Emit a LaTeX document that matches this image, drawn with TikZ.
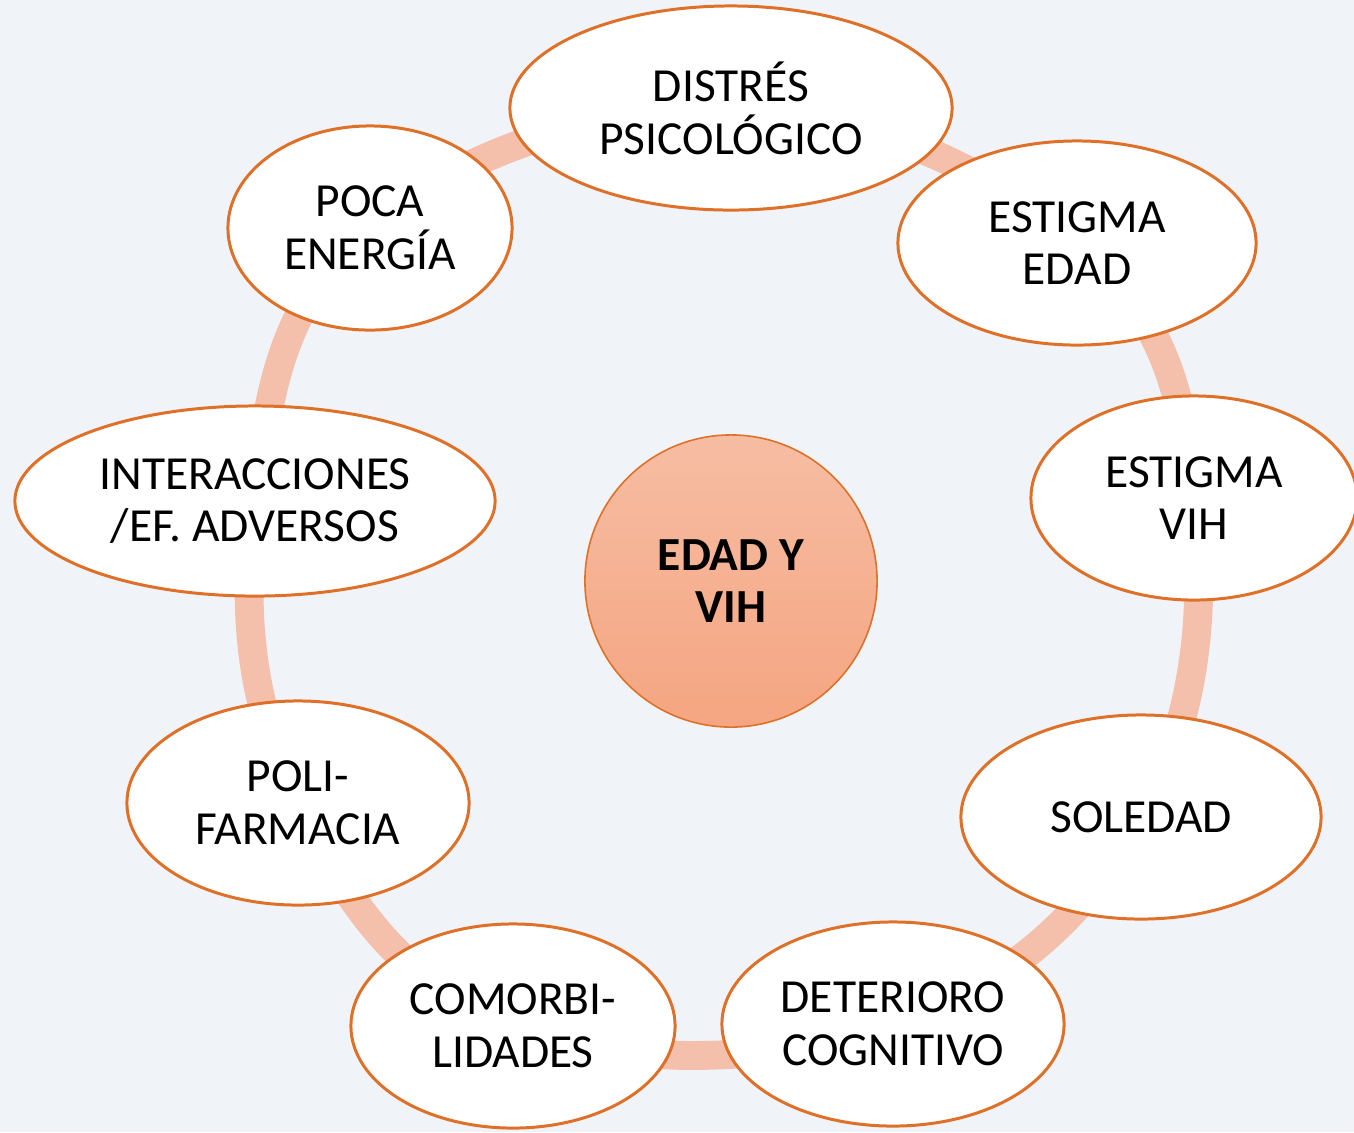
\documentclass[tikz,border=0pt]{standalone}
\usepackage{fontspec}
\setmainfont{Carlito}
\usetikzlibrary{shapes.geometric}

\definecolor{bgc}{HTML}{F0F4F9}
\definecolor{ringc}{HTML}{F4C0AC}
\definecolor{edgec}{RGB}{222,112,40}
\definecolor{coretop}{HTML}{F6BDA3}
\definecolor{corebot}{HTML}{F5A581}

\pgfdeclarelayer{bg}
\pgfdeclarelayer{ringlayer}
\pgfsetlayers{bg,ringlayer,main}

\begin{document}
\begin{tikzpicture}[x=0.01cm,y=-0.01cm]
\tikzstyle{every node}+=[inner sep=0pt, align=center, font=\fontsize{13.5}{15}\selectfont]
\tikzstyle{bub}=[ellipse, draw=edgec, line width=0.85pt, fill=white, minimum height=2.04cm]
\tikzstyle{ring}=[draw=ringc, line width=8.2pt]
\useasboundingbox (0,0) rectangle (1354,1132);
\begin{pgfonlayer}{bg}
\fill [bgc] (0,0) rectangle (1354,1132);
\end{pgfonlayer}
% centre
\node [circle, draw=edgec, line width=0.45pt, top color=coretop, bottom color=corebot,
       minimum size=2.92cm, font=\fontsize{13.5}{15}\selectfont\bfseries] (core) at (731,581) {EDAD Y\\VIH};
% ring of factors
\node [bub, minimum width=4.42cm] (dis) at (731,108) {DISTRÉS\\PSICOLÓGICO};
\node [bub, minimum width=3.58cm] (edad) at (1077,243) {ESTIGMA\\EDAD};
\node [bub, minimum width=3.26cm] (vih) at (1194,498) {ESTIGMA\\VIH};
\node [bub, minimum width=3.60cm] (sol) at (1141,817) {SOLEDAD};
\node [bub, minimum width=3.42cm] (det) at (893,1024) {DETERIORO\\COGNITIVO};
\node [bub, minimum width=3.24cm] (com) at (513,1026) {COMORBI-\\LIDADES};
\node [bub, minimum width=3.42cm] (poli) at (298,803) {POLI-\\FARMACIA};
\node [bub, minimum width=4.80cm, minimum height=1.90cm] (inter) at (255,501) {INTERACCIONES\\/EF. ADVERSOS};
\node [bub, minimum width=2.84cm] (poca) at (370,228) {POCA\\ENERGÍA};
\begin{pgfonlayer}{ringlayer}
\draw [ring] plot [smooth cycle, tension=0.68] coordinates {(dis.center) (edad.center) (vih.center)
  (sol.center) (det.center) (com.center) (poli.center) (inter.center) (poca.center)};
\end{pgfonlayer}
\end{tikzpicture}
\end{document}
